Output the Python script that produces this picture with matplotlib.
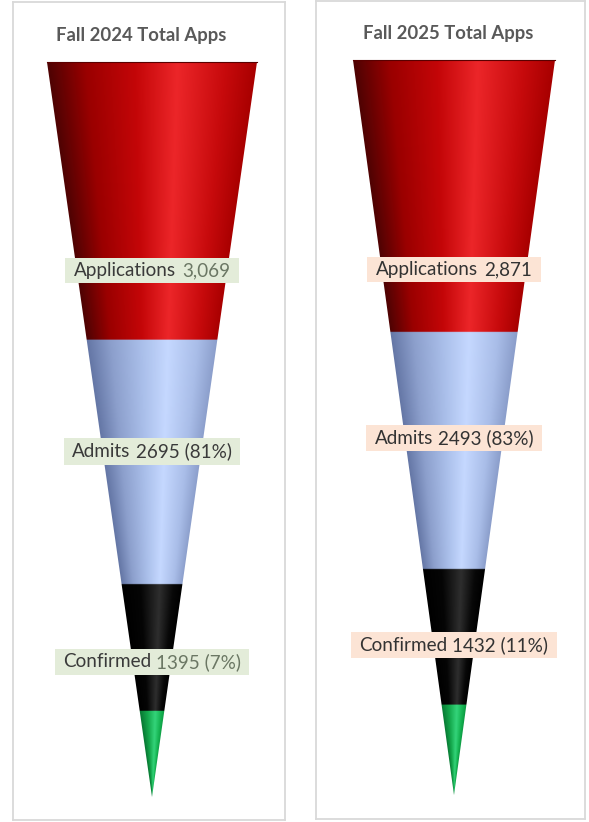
import numpy as np
import matplotlib
matplotlib.use("Agg")
import matplotlib.pyplot as plt
from matplotlib.colors import LinearSegmentedColormap
from matplotlib.patches import Polygon
from matplotlib.offsetbox import TextArea, HPacker, DrawingArea, AnnotationBbox

# ---------------- data ----------------
titles = ["Fall 2024 Total Apps", "Fall 2025 Total Apps"]
stages = ["Applications", "Admits", "Confirmed", "Enrolled"]
values_2024 = [3069, 2695, 1395, 948]
values_2025 = [2871, 2493, 1432, 948]
pct_2024 = [None, 81, 7]
pct_2025 = [None, 83, 11]

# ---------------- style / layout ----------------
W, H = 589, 822
plt.rcParams['font.family'] = ['Lato', 'DejaVu Sans']

seg_colors = [
    # red
    [(0.0, '#4f0303'), (0.18, '#9a0000'), (0.42, '#c40608'), (0.62, '#ec2629'), (0.85, '#c70a0c'), (1.0, '#a80000')],
    # blue
    [(0.0, '#6577a6'), (0.18, '#8c9fcc'), (0.42, '#aabfea'), (0.62, '#c5d8ff'), (0.85, '#a9bde8'), (1.0, '#8b9ecb')],
    # black
    [(0.0, '#000000'), (0.3, '#050505'), (0.62, '#2e2e2e'), (0.85, '#080808'), (1.0, '#000000')],
    # green
    [(0.0, '#087a34'), (0.3, '#14a84c'), (0.62, '#34d47a'), (0.85, '#16b553'), (1.0, '#0c9a42')],
]
cmaps = [LinearSegmentedColormap.from_list(f"c{i}", c) for i, c in enumerate(seg_colors)]

panels = [
    dict(box=(13, 2, 285, 820), cx=152, top=62, tip=797, hw=105, title=(141, 35),
         label_bg='#e3ecd9', main='#3a3a3a', val='#6b7764', label_frac=[0.75, 0.455, 0.61]),
    dict(box=(316, 1, 585, 819), cx=454, top=60, tip=795, hw=101, title=(448, 33),
         label_bg='#fce4d5', main='#333333', val='#333333', label_frac=[0.77, 0.447, 0.56]),
]

fig = plt.figure(figsize=(W / 100, H / 100), dpi=100)
fig.patch.set_facecolor('white')


def label_parts(i, vals, pcts):
    if i == 0:
        return stages[0], f"{vals[0]:,}"
    return stages[i], f"{vals[i]} ({pcts[i]}%)"


for p, vals, pcts, title in zip(panels, [values_2024, values_2025], [pct_2024, pct_2025], titles):
    x0, y0, x1, y1 = p['box']
    ax = fig.add_axes([x0 / W, 1 - y1 / H, (x1 - x0) / W, (y1 - y0) / H])
    T = float(sum(vals))
    s = (p['tip'] - p['top']) / T
    ax.set_ylim(-(y1 - p['tip']) / s, T + (p['top'] - y0) / s)
    ax.set_xlim(-(p['cx'] - x0) / p['hw'], (x1 - p['cx']) / p['hw'])
    ax.set_xticks([]); ax.set_yticks([])
    for sp in ax.spines.values():
        sp.set_color('#d9d9d9'); sp.set_linewidth(1.3)

    # shaded cone image
    ny, nx = 1400, 500
    ys = np.linspace(0, T, ny)
    xs = np.linspace(-1, 1, nx)
    X, Y = np.meshgrid(xs, ys)
    U = np.clip(X / np.maximum(Y / T, 1e-6), -1, 1)
    V = (U + 1) / 2
    cum = np.concatenate([[0], np.cumsum(vals)])
    img = np.ones((ny, nx, 3))
    for k in range(len(vals)):
        lo, hi = T - cum[k + 1], T - cum[k]
        m = (Y >= lo) & (Y <= hi)
        img[m] = cmaps[k](V[m])[:, :3]
    im = ax.imshow(img, extent=(-1, 1, 0, T), origin='lower', aspect='auto',
                   interpolation='bilinear', zorder=1)
    cone = Polygon([(-1, T), (1, T), (0, 0)], closed=True, facecolor='none',
                   edgecolor='none', transform=ax.transData)
    ax.add_patch(cone)
    im.set_clip_path(cone)
    # thin top rim
    ax.plot([-1, 1], [T, T], color='#5a0000', lw=0.8, zorder=2)

    # title
    fig.text(p['title'][0] / W, 1 - p['title'][1] / H, title, ha='center', va='center',
             fontsize=13.3, fontweight='bold', color='#595959')

    # labels
    for i in range(3):
        hi = T - cum[i]
        ylab = hi - p['label_frac'][i] * vals[i]
        a, b = label_parts(i, vals, pcts)
        if i == 1:
            ca, cb = p['main'], p['main']
        else:
            ca, cb = p['main'], p['val']
        gap = 5 if i == 0 else 3.5
        pk = HPacker(children=[DrawingArea(3, 0),
                               TextArea(a, textprops=dict(color=ca, fontsize=13.6)),
                               DrawingArea(gap, 0),
                               TextArea(b, textprops=dict(color=cb, fontsize=13.6)),
                               DrawingArea(3, 0)],
                     sep=0, pad=0, align='center')
        ab = AnnotationBbox(pk, (0, ylab), xycoords='data', frameon=True, pad=0.3,
                            bboxprops=dict(facecolor=p['label_bg'], edgecolor='none',
                                           boxstyle='square'), zorder=5)
        ax.add_artist(ab)

fig.savefig('out.png', dpi=100, facecolor='white')
